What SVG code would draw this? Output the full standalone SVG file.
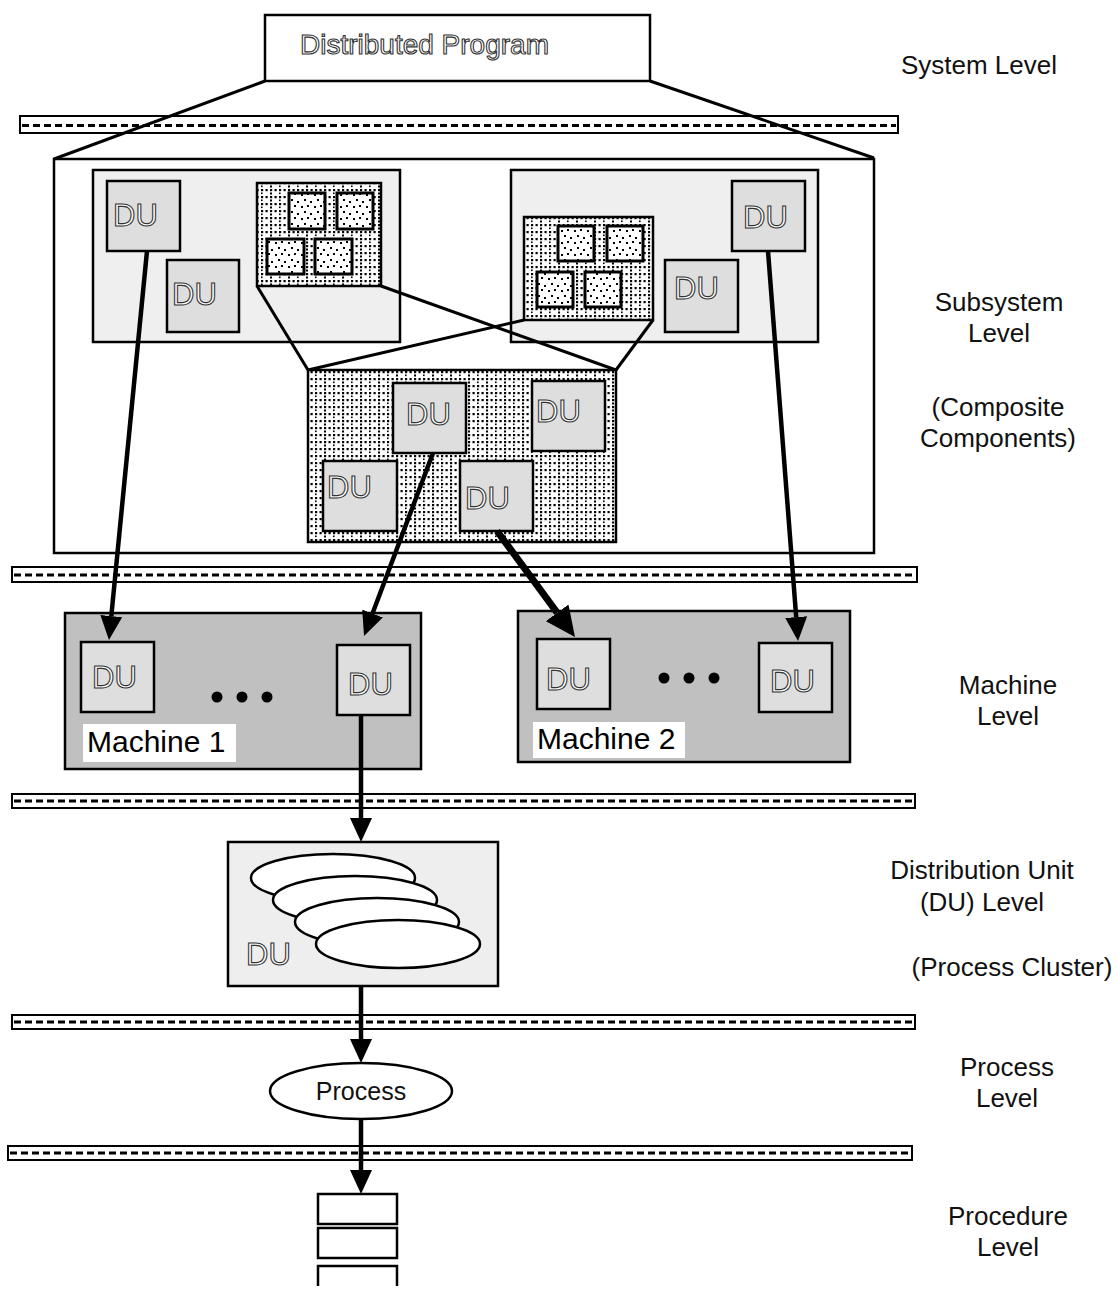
<svg xmlns="http://www.w3.org/2000/svg" width="1117" height="1292" viewBox="0 0 1117 1292">
  <defs>
    <!-- dense dot screen used for composite components -->
    <pattern id="dense" width="18" height="7" patternUnits="userSpaceOnUse">
      <rect width="18" height="7" fill="#fff"/>
      <rect x="0" y="0" width="2.2" height="2.2" fill="#000"/>
      <rect x="4.5" y="0" width="2.2" height="2.2" fill="#000"/>
      <rect x="9" y="0" width="2.2" height="2.2" fill="#000"/>
      <rect x="13.5" y="0" width="2.2" height="2.2" fill="#000"/>
      <rect x="0" y="3.5" width="2" height="2" fill="#000"/>
      <rect x="9" y="3.5" width="1.6" height="1.6" fill="#000"/>
    </pattern>
    <!-- sparse dots for the small inner components -->
    <pattern id="sparse" width="13" height="12" patternUnits="userSpaceOnUse">
      <rect width="13" height="12" fill="#fff"/>
      <rect x="2" y="2" width="2" height="2" fill="#000"/>
      <rect x="8" y="1" width="2" height="2" fill="#000"/>
      <rect x="5" y="7" width="2" height="2" fill="#000"/>
      <rect x="11" y="9" width="2" height="2" fill="#000"/>
    </pattern>
    <marker id="head" viewBox="0 0 24 22" refX="0" refY="11" markerWidth="24" markerHeight="22" markerUnits="userSpaceOnUse" orient="auto">
      <path d="M0,0 L24,11 L0,22 Z" fill="#000"/>
    </marker>
    <marker id="headBig" viewBox="0 0 30 28" refX="0" refY="14" markerWidth="30" markerHeight="28" markerUnits="userSpaceOnUse" orient="auto">
      <path d="M0,0 L30,14 L0,28 Z" fill="#000"/>
    </marker>
  </defs>
  <style>
    .band rect { fill: #fff; stroke: #000; stroke-width: 2; }
    .band line { stroke: #000; stroke-width: 3; stroke-dasharray: 7 4; }
    .box { stroke: #000; stroke-width: 2.5; }
    .sub { fill: #efefef; }
    .du { fill: #dedede; }
    .mach { fill: #c0c0c0; }
    .comp { fill: url(#dense); stroke: #000; stroke-width: 2.5; }
    .mini { fill: url(#sparse); stroke: #000; stroke-width: 3; }
    .hollow { font-family: "Liberation Sans", Arial, sans-serif; fill: #fff; stroke: #333; stroke-width: 1.1; }
    .du-t { font-size: 31px; }
    .lvl { font-family: "Liberation Sans", Arial, sans-serif; font-size: 26px; fill: #111; text-anchor: middle; }
    .lbl { font-family: "Liberation Sans", Arial, sans-serif; font-size: 30px; fill: #000; }
    .edge { stroke: #000; stroke-width: 3; fill: none; }
    .arrow { stroke: #000; stroke-width: 4.5; fill: none; marker-end: url(#head); }
    .arrow-thick { stroke: #000; stroke-width: 7; fill: none; marker-end: url(#headBig); }
    .oval { fill: #fff; stroke: #000; stroke-width: 2.5; }
  </style>

  <rect width="1117" height="1292" fill="#fff"/>

  <!-- level separators -->
  <g id="separators">
    <g class="band"><rect x="20" y="116" width="878" height="17"/><line x1="22" y1="125.5" x2="896" y2="125.5"/></g>
    <g class="band"><rect x="12" y="567" width="905" height="15"/><line x1="14" y1="575" x2="915" y2="575"/></g>
    <g class="band"><rect x="12" y="794" width="903" height="14"/><line x1="14" y1="801" x2="913" y2="801"/></g>
    <g class="band"><rect x="12" y="1015" width="903" height="14"/><line x1="14" y1="1022" x2="913" y2="1022"/></g>
    <g class="band"><rect x="8" y="1146" width="904" height="14"/><line x1="10" y1="1153" x2="910" y2="1153"/></g>
  </g>

  <!-- level names -->
  <g id="level-labels">
    <text class="lvl" x="979" y="74">System Level</text>
    <text class="lvl" x="999" y="311">Subsystem</text>
    <text class="lvl" x="999" y="342">Level</text>
    <text class="lvl" x="998" y="416">(Composite</text>
    <text class="lvl" x="998" y="447">Components)</text>
    <text class="lvl" x="1008" y="694">Machine</text>
    <text class="lvl" x="1008" y="725">Level</text>
    <text class="lvl" x="982" y="879">Distribution Unit</text>
    <text class="lvl" x="982" y="911">(DU) Level</text>
    <text class="lvl" x="1012" y="976">(Process Cluster)</text>
    <text class="lvl" x="1007" y="1076">Process</text>
    <text class="lvl" x="1007" y="1107">Level</text>
    <text class="lvl" x="1008" y="1225">Procedure</text>
    <text class="lvl" x="1008" y="1256">Level</text>
  </g>

  <!-- system level -->
  <g id="program">
    <rect class="box" x="265" y="15" width="385" height="66" fill="#fff"/>
    <text class="hollow" x="300" y="54" font-size="28">Distributed Program</text>
  </g>

  <!-- subsystem level -->
  <g id="subsystem">
    <rect class="box" x="54" y="159" width="820" height="394" fill="#fff"/>
  </g>

  <g id="subsystem-left">
    <rect class="box sub" x="93" y="170" width="307" height="172"/>
    <g id="du-sl1"><rect class="box du" x="107" y="181" width="73" height="70"/><text class="hollow du-t" x="113" y="226">DU</text></g>
    <g id="du-sl2"><rect class="box du" x="167" y="260" width="72" height="72"/><text class="hollow du-t" x="172" y="305">DU</text></g>
    <g id="comp-left">
      <rect class="comp" x="257" y="183" width="124" height="103"/>
      <rect class="mini" x="289" y="193" width="36" height="36"/>
      <rect class="mini" x="337" y="193" width="36" height="36"/>
      <rect class="mini" x="267" y="239" width="37" height="35"/>
      <rect class="mini" x="315" y="239" width="37" height="35"/>
    </g>
  </g>

  <g id="subsystem-right">
    <rect class="box sub" x="511" y="170" width="307" height="172"/>
    <g id="du-sr1"><rect class="box du" x="732" y="181" width="73" height="70"/><text class="hollow du-t" x="743" y="228">DU</text></g>
    <g id="du-sr2"><rect class="box du" x="665" y="260" width="73" height="72"/><text class="hollow du-t" x="674" y="299">DU</text></g>
    <g id="comp-right">
      <rect class="comp" x="524" y="217" width="129" height="103"/>
      <rect class="mini" x="558" y="226" width="36" height="35"/>
      <rect class="mini" x="607" y="226" width="36" height="35"/>
      <rect class="mini" x="537" y="272" width="36" height="35"/>
      <rect class="mini" x="585" y="272" width="36" height="35"/>
    </g>
  </g>

  <!-- expansion of the shared composite component -->
  <g id="expansion" class="edge">
    <line x1="265" y1="81" x2="54" y2="159"/>
    <line x1="650" y1="81" x2="874" y2="158"/>
    <line x1="257" y1="286" x2="308" y2="370"/>
    <line x1="381" y1="286" x2="616" y2="370"/>
    <line x1="524" y1="320" x2="308" y2="370"/>
    <line x1="653" y1="320" x2="616" y2="370"/>
  </g>

  <g id="composite">
    <rect class="comp" x="308" y="370" width="308" height="172"/>
    <g id="du-c1"><rect class="box du" x="393" y="383" width="73" height="70"/><text class="hollow du-t" x="406" y="425">DU</text></g>
    <g id="du-c2"><rect class="box du" x="532" y="381" width="73" height="70"/><text class="hollow du-t" x="536" y="422">DU</text></g>
    <g id="du-c3"><rect class="box du" x="323" y="461" width="74" height="70"/><text class="hollow du-t" x="327" y="498">DU</text></g>
    <g id="du-c4"><rect class="box du" x="460" y="461" width="73" height="70"/><text class="hollow du-t" x="465" y="509">DU</text></g>
  </g>

  <!-- machine level -->
  <g id="machine-1">
    <rect class="box mach" x="65" y="613" width="356" height="156"/>
    <g id="du-m1a"><rect class="box du" x="81" y="642" width="73" height="70"/><text class="hollow du-t" x="92" y="688">DU</text></g>
    <g id="du-m1b"><rect class="box du" x="337" y="645" width="73" height="70"/><text class="hollow du-t" x="348" y="695">DU</text></g>
    <circle cx="217" cy="697" r="5.5"/>
    <circle cx="242" cy="697" r="5.5"/>
    <circle cx="267" cy="697" r="5.5"/>
    <rect x="83" y="724" width="153" height="38" fill="#fff"/>
    <text class="lbl" x="87" y="752">Machine 1</text>
  </g>

  <g id="machine-2">
    <rect class="box mach" x="518" y="611" width="332" height="151"/>
    <g id="du-m2a"><rect class="box du" x="537" y="639" width="73" height="70"/><text class="hollow du-t" x="546" y="690">DU</text></g>
    <g id="du-m2b"><rect class="box du" x="759" y="643" width="73" height="69"/><text class="hollow du-t" x="770" y="692">DU</text></g>
    <circle cx="664" cy="678" r="5.5"/>
    <circle cx="689" cy="678" r="5.5"/>
    <circle cx="714" cy="678" r="5.5"/>
    <rect x="533" y="722" width="152" height="36" fill="#fff"/>
    <text class="lbl" x="537" y="749">Machine 2</text>
  </g>

  <!-- distribution unit level -->
  <g id="du-level">
    <rect class="box" x="228" y="842" width="270" height="144" fill="#eeeeee"/>
    <ellipse class="oval" cx="333" cy="878" rx="82" ry="24"/>
    <ellipse class="oval" cx="355" cy="900" rx="82" ry="24"/>
    <ellipse class="oval" cx="377" cy="922" rx="82" ry="24"/>
    <ellipse class="oval" cx="398" cy="944" rx="82" ry="24"/>
    <text class="hollow du-t" x="246" y="965">DU</text>
  </g>

  <!-- process level -->
  <g id="process">
    <ellipse class="oval" cx="361" cy="1091" rx="91" ry="28"/>
    <text x="361" y="1100" font-family="'Liberation Sans', Arial, sans-serif" font-size="25" text-anchor="middle" fill="#111">Process</text>
  </g>

  <!-- procedure level -->
  <g id="procedures" fill="#fff" stroke="#000" stroke-width="2.5">
    <rect x="318" y="1194" width="79" height="30"/>
    <rect x="318" y="1228" width="79" height="30"/>
    <path d="M318,1286 V1266 H397 V1286" fill="#fff"/>
  </g>

  <!-- mappings between levels -->
  <g id="connectors">
    <line class="arrow" x1="147" y1="251" x2="111.3" y2="616.1"/>
    <line class="arrow" x1="433" y1="453" x2="372.5" y2="613.5"/>
    <line class="arrow-thick" x1="497" y1="531" x2="557.2" y2="612.8"/>
    <line class="arrow" x1="768" y1="251" x2="796.2" y2="617.1"/>
    <line class="arrow" x1="361" y1="716" x2="361" y2="818"/>
    <line class="arrow" x1="361" y1="986" x2="361" y2="1039"/>
    <line class="arrow" x1="361" y1="1120" x2="361" y2="1170"/>
  </g>
</svg>
